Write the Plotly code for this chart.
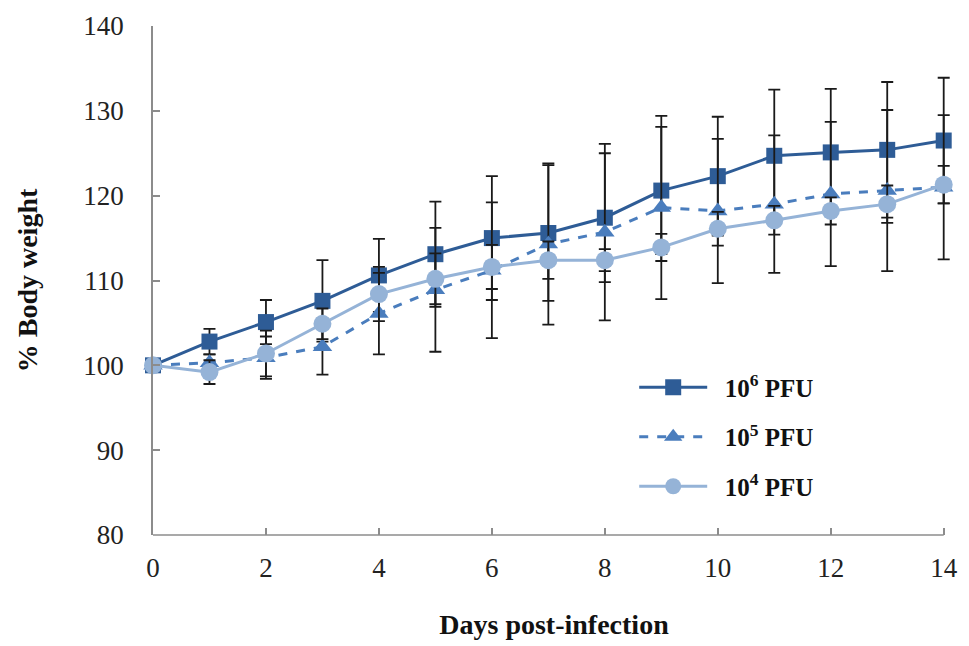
import plotly.graph_objects as go

days = list(range(15))
s6 = [100, 102.8, 105.1, 107.6, 110.6, 113.1, 115.0, 115.6, 117.4, 120.6, 122.3, 124.7, 125.1, 125.4, 126.5]
e6 = [0, 1.5, 2.6, 4.8, 4.3, 6.2, 7.3, 8.0, 7.6, 7.5, 7.0, 7.8, 7.5, 8.0, 7.4]
s5 = [100, 100.3, 100.9, 102.2, 106.1, 108.9, 111.2, 114.3, 115.7, 118.6, 118.2, 119.0, 120.2, 120.6, 121.0]
e5 = [0, 1.0, 2.5, 3.3, 4.8, 7.3, 8.0, 9.5, 10.4, 10.8, 8.5, 8.1, 8.5, 9.5, 8.5]
s4 = [100, 99.2, 101.4, 104.9, 108.4, 110.2, 111.6, 112.4, 112.4, 113.9, 116.1, 117.1, 118.2, 119.0, 121.3]
e4 = [0, 1.4, 2.7, 1.8, 3.2, 3.0, 2.6, 2.2, 1.3, 1.6, 2.0, 1.7, 1.6, 2.2, 2.2]
names = ["<b>10<sup>6</sup> PFU</b>", "<b>10<sup>5</sup> PFU</b>", "<b>10<sup>4</sup> PFU</b>"]

SERIF = "Liberation Serif"
fig = go.Figure()
specs = [
    (s6, e6, names[0], "#2E5C96", "solid", "square", 16),
    (s5, e5, names[1], "#4A7DBD", "dash", "triangle-up", 17),
    (s4, e4, names[2], "#95B3D7", "solid", "circle", 18),
]
for i, (ys, es, nm, col, dash, sym, sz) in enumerate(specs):
    fig.add_trace(go.Scatter(
        x=days, y=ys, name="\u2002" + nm, mode="lines+markers",
        legendgroup="g%d" % i,
        line=dict(color=col, width=3, dash=dash),
        marker=dict(symbol=sym, size=sz, color=col),
        error_y=dict(type="data", array=es, visible=True, color="#1a1a1a", thickness=1.8, width=6),
        cliponaxis=False,
    ))

axis_common = dict(
    ticks="inside", ticklen=7, tickcolor="#8c8c8c", tickwidth=1.5,
    showgrid=False, zeroline=False,
    tickfont=dict(family=SERIF, size=27, color="#222"),
)
fig.add_shape(type="line", xref="x", yref="paper", x0=0, x1=14, y0=0, y1=0,
              line=dict(color="#8c8c8c", width=1.5))
fig.update_layout(
    width=969, height=646,
    margin=dict(l=153, r=11, t=22, b=111),
    plot_bgcolor="white", paper_bgcolor="white",
    xaxis=dict(range=[0, 14.2], dtick=2, tick0=0, showline=False, ticklabelstandoff=14,
               title=dict(text="<b>Days post-infection</b>", font=dict(family=SERIF, size=28, color="#111"), standoff=32),
               **axis_common),
    yaxis=dict(range=[80, 140], dtick=10, showline=True, linecolor="#8c8c8c", linewidth=1.5,
               ticklabelstandoff=22,
               title=dict(text="<b>% Body weight</b>", font=dict(family=SERIF, size=28, color="#111"), standoff=38),
               **axis_common),
    legend=dict(x=0.600, y=0.335, xanchor="left", yanchor="top",
                font=dict(family=SERIF, size=25, color="#111"),
                itemwidth=68, tracegroupgap=14, bgcolor="rgba(0,0,0,0)"),
    showlegend=True,
)
fig.write_html("out.html")
